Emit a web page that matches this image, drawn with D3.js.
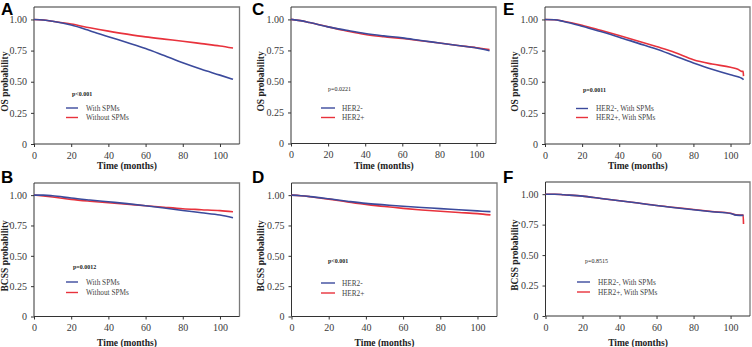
<!DOCTYPE html>
<html>
<head>
<meta charset="utf-8">
<script src="https://cdn.jsdelivr.net/npm/d3@7"></script>
<style>
  body { margin: 0; background: #fff; }
  svg { display: block; }
  .tick text { font-family: "Liberation Serif", "Times New Roman", serif; font-size: 10px; fill: #3a3a3a; }
  .axis path, .axis line { stroke: #333; }
  .title { font-family: "Liberation Serif", "Times New Roman", serif; font-size: 9.5px; font-weight: bold; fill: #222; }
  .letter { font-family: "Liberation Sans", Arial, sans-serif; font-size: 17px; font-weight: bold; fill: #000; }
  .pval { font-family: "Liberation Serif", serif; font-size: 6px; fill: #222; }
  .leg { font-family: "Liberation Serif", serif; font-size: 7.3px; fill: #444; }
</style>
</head>
<body>
<div id="chart"></div>
<script>
// time points (months) used for every curve
let months = [0, 5, 10, 20, 30, 40, 50, 60, 70, 80, 90, 100, 107];

// A: OS, with vs without SPMs
let osWithSPM    = [1.00, 0.995, 0.985, 0.955, 0.91, 0.862, 0.815, 0.767, 0.71, 0.652, 0.60, 0.553, 0.519];
let osWithoutSPM = [1.00, 0.995, 0.985, 0.963, 0.933, 0.906, 0.882, 0.86, 0.842, 0.825, 0.806, 0.787, 0.77];
// B: BCSS, with vs without SPMs
let bcssWithSPM    = [1.00, 1.00, 0.995, 0.976, 0.96, 0.945, 0.93, 0.913, 0.894, 0.874, 0.855, 0.836, 0.814];
let bcssWithoutSPM = [1.00, 0.993, 0.985, 0.965, 0.95, 0.937, 0.925, 0.913, 0.90, 0.888, 0.88, 0.872, 0.863];
// C: OS by HER2
let osHer2Neg = [1.00, 0.99, 0.975, 0.94, 0.912, 0.886, 0.867, 0.851, 0.83, 0.81, 0.79, 0.77, 0.748];
let osHer2Pos = [1.00, 0.99, 0.975, 0.94, 0.907, 0.878, 0.86, 0.846, 0.828, 0.81, 0.79, 0.772, 0.756];
// D: BCSS by HER2
let bcssHer2Neg = [1.00, 0.995, 0.988, 0.97, 0.95, 0.932, 0.92, 0.908, 0.898, 0.889, 0.879, 0.87, 0.864];
let bcssHer2Pos = [1.00, 0.995, 0.987, 0.967, 0.944, 0.924, 0.906, 0.891, 0.878, 0.867, 0.857, 0.848, 0.837];
// E: OS, HER2 status among patients with SPMs
let eMonths   = [0, 5, 10, 20, 30, 40, 50, 60, 70, 80, 90, 100, 104, 106, 106.8, 107];
let eHer2Neg  = [1.00, 0.998, 0.984, 0.946, 0.903, 0.858, 0.81, 0.763, 0.707, 0.651, 0.60, 0.556, 0.54, 0.528, 0.52, 0.516];
let eHer2Pos  = [1.00, 0.998, 0.986, 0.954, 0.913, 0.871, 0.827, 0.782, 0.735, 0.677, 0.642, 0.616, 0.60, 0.583, 0.583, 0.545];
// F: BCSS, HER2 status among patients with SPMs
let fMonths   = [0, 5, 10, 20, 30, 40, 50, 60, 70, 80, 90, 100, 103, 106.8, 107];
let fHer2Neg  = [1.00, 1.00, 0.995, 0.984, 0.964, 0.946, 0.927, 0.907, 0.889, 0.872, 0.856, 0.842, 0.828, 0.826, 0.826];
let fHer2Pos  = [1.00, 1.00, 0.995, 0.984, 0.964, 0.946, 0.927, 0.907, 0.891, 0.874, 0.858, 0.843, 0.83, 0.828, 0.755];

let xTicks = [0, 20, 40, 60, 80, 100];
let yTicks = [0, 0.25, 0.5, 0.75, 1.0];
let blue = "#3b4a9c", red = "#e8323c";

let panels = [
    {letter: "A", ytitle: "OS probability", p: "p<0.001", pBold: true, t: months,
     s1: osWithSPM, s2: osWithoutSPM, names: ["With SPMs", "Without SPMs"],
     box: [34, 239.5, 7, 144], pPos: [72, 94], legX: [66, 78, 86], legY: [108, 117.5], ytx: 5, lx: 1, ly: 14.5},
    {letter: "B", ytitle: "BCSS probability", p: "p=0.0012", pBold: true, t: months,
     s1: bcssWithSPM, s2: bcssWithoutSPM, names: ["With SPMs", "Without SPMs"],
     box: [34, 239.5, 183, 316.5], pPos: [73, 267], legX: [66, 78, 86], legY: [282, 292.5], ytx: 5, lx: 1, ly: 183},
    {letter: "C", ytitle: "OS probability", p: "p=0.0221", pBold: false, t: months,
     s1: osHer2Neg, s2: osHer2Pos, names: ["HER2-", "HER2+"],
     box: [291, 496, 7, 143.5], pPos: [328, 89], legX: [321, 335, 342], legY: [108, 117.5], ytx: 261, lx: 252, ly: 14.5},
    {letter: "D", ytitle: "BCSS probability", p: "p<0.001", pBold: true, t: months,
     s1: bcssHer2Neg, s2: bcssHer2Pos, names: ["HER2-", "HER2+"],
     box: [291.5, 497, 183, 316.5], pPos: [328, 261], legX: [321, 335, 342], legY: [283, 293], ytx: 261, lx: 252, ly: 183},
    {letter: "E", ytitle: "OS probability", p: "p=0.0011", pBold: true, t: eMonths,
     s1: eHer2Neg, s2: eHer2Pos, names: ["HER2-, With SPMs", "HER2+, With SPMs"],
     box: [545, 750, 7, 144], pPos: [583, 90], legX: [576, 588, 596], legY: [108.5, 117.5], ytx: 515, lx: 503, ly: 15},
    {letter: "F", ytitle: "BCSS probability", p: "p=0.8515", pBold: false, t: fMonths,
     s1: fHer2Neg, s2: fHer2Pos, names: ["HER2-, With SPMs", "HER2+, With SPMs"],
     box: [545.5, 750, 182, 316], pPos: [585, 261], legX: [577, 590, 598], legY: [282, 292], ytx: 515, lx: 503, ly: 183}
];

let svg = d3.select("#chart").append("svg")
    .attr("width", 752)
    .attr("height", 347);

panels.forEach(cfg => drawPanel(cfg));

function drawPanel(cfg) {
    let [left, right, top, bottom] = cfg.box;
    let x = d3.scaleLinear().domain([0, 110.5]).range([left, right]);
    let y = d3.scaleLinear().domain([0, 1.1]).range([bottom, top]);
    let g = svg.append("g");

    // frame (top and right in lighter gray)
    g.append("path")
        .attr("d", `M${left},${top}H${right}V${bottom}`)
        .attr("fill", "none")
        .attr("stroke", "#7a7a7a")
        .attr("stroke-width", 1.3);

    let xAxis = d3.axisBottom(x).tickValues(xTicks).tickSize(3).tickSizeOuter(0).tickFormat(d3.format("d"));
    let yAxis = d3.axisLeft(y).tickValues(yTicks).tickSize(3).tickSizeOuter(0)
        .tickFormat(d => d === 0 ? "0" : d3.format(".2f")(d));

    g.append("g").attr("class", "axis")
        .attr("transform", "translate(0," + bottom + ")")
        .call(xAxis)
        .call(a => a.select(".domain").attr("d", `M${left},0H${right}`))
        .selectAll("text").attr("dy", "0.85em");
    g.append("g").attr("class", "axis")
        .attr("transform", "translate(" + left + ",0)")
        .call(yAxis)
        .call(a => a.select(".domain").attr("d", `M0,${bottom}V${top}`))
        .selectAll("text").attr("dx", "-1px");

    // curves
    let line = d3.line().curve(d3.curveMonotoneX).x((d, i) => x(cfg.t[i])).y(d => y(d));
    g.append("path").datum(cfg.s2)
        .attr("fill", "none").attr("stroke", red).attr("stroke-width", 1.6)
        .attr("d", line);
    g.append("path").datum(cfg.s1)
        .attr("fill", "none").attr("stroke", blue).attr("stroke-width", 1.6)
        .attr("d", line);

    // titles
    g.append("text").attr("class", "title")
        .attr("x", x(50)).attr("y", bottom + (top < 100 ? 25 : 29.5))
        .attr("text-anchor", "middle")
        .text("Time (months)");
    g.append("text").attr("class", "title")
        .attr("transform", "translate(" + (cfg.ytx + 3) + "," + y(0.5) + ") rotate(-90)")
        .attr("text-anchor", "middle")
        .text(cfg.ytitle);

    g.append("text").attr("class", "letter")
        .attr("x", cfg.lx)
        .attr("y", cfg.ly)
        .text(cfg.letter);

    // p value and legend
    g.append("text").attr("class", "pval")
        .attr("x", cfg.pPos[0]).attr("y", cfg.pPos[1] + 2)
        .attr("font-weight", cfg.pBold ? "bold" : "normal")
        .attr("fill", cfg.pBold ? "#222" : "#555")
        .text(cfg.p);
    [blue, red].forEach((c, i) => {
        g.append("line")
            .attr("x1", cfg.legX[0]).attr("x2", cfg.legX[1])
            .attr("y1", cfg.legY[i]).attr("y2", cfg.legY[i])
            .attr("stroke", c).attr("stroke-width", 1.4);
        g.append("text").attr("class", "leg")
            .attr("x", cfg.legX[2]).attr("y", cfg.legY[i] + 2.5)
            .text(cfg.names[i]);
    });
}
</script>
</body>
</html>
